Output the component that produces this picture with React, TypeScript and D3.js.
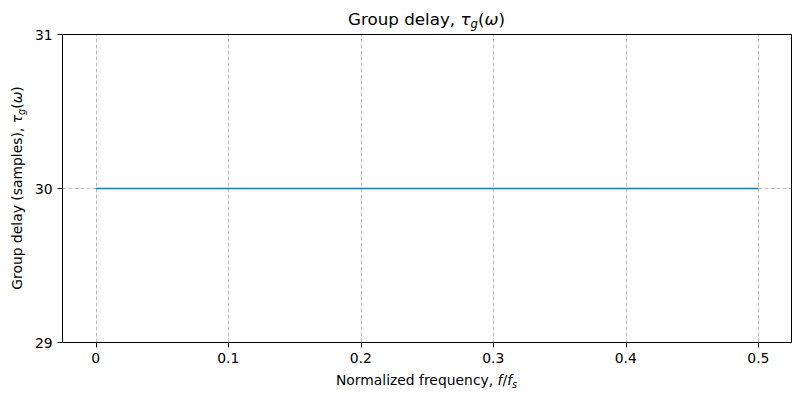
import React, { useEffect, useRef } from 'react';
import * as d3 from 'd3';

// Group delay of a linear-phase FIR filter (constant)
const freqs = [0, 0.1, 0.2, 0.3, 0.4, 0.5];
const delays = [30, 30, 30, 30, 30, 30];
const xTicks = [0, 0.1, 0.2, 0.3, 0.4, 0.5];
const yTicks = [29, 30, 31];

export default function App() {
  const svgRef = useRef<SVGSVGElement>(null);

  useEffect(() => {
    if (!svgRef.current) return;
    const width = 800;
    const height = 399;
    const margin = { top: 34.5, right: 8.5, bottom: 56.5, left: 62.5 };
    const font = 'DejaVu Sans, sans-serif';

    const svg = d3.select(svgRef.current);
    svg.selectAll('*').remove();
    svg.attr('width', width).attr('height', height).style('background', '#fff');

    const x = d3.scaleLinear().domain([-0.025, 0.525]).range([margin.left, width - margin.right]);
    const y = d3.scaleLinear().domain([29, 31]).range([height - margin.bottom, margin.top]);

    const grid = svg.append('g');
    xTicks.forEach(t => {
      grid.append('line')
        .attr('x1', Math.round(x(t)) + 0.5).attr('x2', Math.round(x(t)) + 0.5)
        .attr('y1', y(29)).attr('y2', y(31))
        .attr('stroke', '#bdbdbd').attr('stroke-width', 1)
        .attr('stroke-dasharray', '4,2');
    });
    yTicks.forEach(t => {
      grid.append('line')
        .attr('x1', margin.left).attr('x2', width - margin.right)
        .attr('y1', y(t)).attr('y2', y(t))
        .attr('stroke', '#bdbdbd').attr('stroke-width', 1)
        .attr('stroke-dasharray', '4,2');
    });

    const line = d3.line<number>().x((_, i) => x(freqs[i])).y(d => y(d));
    svg.append('path')
      .attr('d', line(delays))
      .attr('fill', 'none')
      .attr('stroke', '#1f77b4')
      .attr('stroke-width', 1.5);

    // frame
    svg.append('rect')
      .attr('x', margin.left).attr('y', margin.top)
      .attr('width', width - margin.left - margin.right)
      .attr('height', height - margin.top - margin.bottom)
      .attr('fill', 'none').attr('stroke', '#000').attr('stroke-width', 1);

    const xAxis = svg.append('g');
    xTicks.forEach(t => {
      const xp = Math.round(x(t)) + 0.5;
      xAxis.append('line')
        .attr('x1', xp).attr('x2', xp)
        .attr('y1', y(29)).attr('y2', y(29) + 4.9)
        .attr('stroke', '#000').attr('stroke-width', 1);
      xAxis.append('text')
        .attr('x', x(t)).attr('y', y(29) + 20.5)
        .attr('text-anchor', 'middle')
        .attr('font-family', font).attr('font-size', 13.9)
        .text(d3.format('.1f')(t).replace(/^0\.0$/, '0'));
    });

    const yAxis = svg.append('g');
    yTicks.forEach(t => {
      yAxis.append('line')
        .attr('x1', margin.left - 4.9).attr('x2', margin.left)
        .attr('y1', y(t)).attr('y2', y(t))
        .attr('stroke', '#000').attr('stroke-width', 1);
      yAxis.append('text')
        .attr('x', margin.left - 9.8).attr('y', y(t) + 5)
        .attr('text-anchor', 'end')
        .attr('font-family', font).attr('font-size', 13.9)
        .text(t);
    });

    // title
    const title = svg.append('text')
      .attr('x', 62 + (800 - 9 - 62) / 2)
      .attr('y', 25)
      .attr('text-anchor', 'middle')
      .attr('font-family', font).attr('font-size', 16.7);
    title.append('tspan').text('Group delay, ');
    title.append('tspan').attr('font-style', 'italic').text('τ');
    title.append('tspan').attr('font-style', 'italic').attr('font-size', 11.7).attr('dy', 3).text('g');
    title.append('tspan').attr('dy', -3).text('(');
    title.append('tspan').attr('font-style', 'italic').text('ω');
    title.append('tspan').text(')');

    // x label
    const xl = svg.append('text')
      .attr('x', 62 + (800 - 9 - 62) / 2)
      .attr('y', 385)
      .attr('text-anchor', 'middle')
      .attr('font-family', font).attr('font-size', 13.9);
    xl.append('tspan').text('Normalized frequency, ');
    xl.append('tspan').attr('font-style', 'italic').text('f');
    xl.append('tspan').text('/');
    xl.append('tspan').attr('font-style', 'italic').text('f');
    xl.append('tspan').attr('font-style', 'italic').attr('font-size', 9.7).attr('dy', 3).text('s');

    // y label
    const yl = svg.append('text')
      .attr('transform', `translate(22,${34 + (342 - 34) / 2}) rotate(-90)`)
      .attr('text-anchor', 'middle')
      .attr('font-family', font).attr('font-size', 13.9);
    yl.append('tspan').text('Group delay (samples), ');
    yl.append('tspan').attr('font-style', 'italic').text('τ');
    yl.append('tspan').attr('font-style', 'italic').attr('font-size', 9.7).attr('dy', 3).text('g');
    yl.append('tspan').attr('dy', -3).text('(');
    yl.append('tspan').attr('font-style', 'italic').text('ω');
    yl.append('tspan').text(')');
  }, []);

  return (
    <div style={{ position: 'absolute', left: 0, top: 0 }}>
      <svg ref={svgRef}></svg>
    </div>
  );
}
